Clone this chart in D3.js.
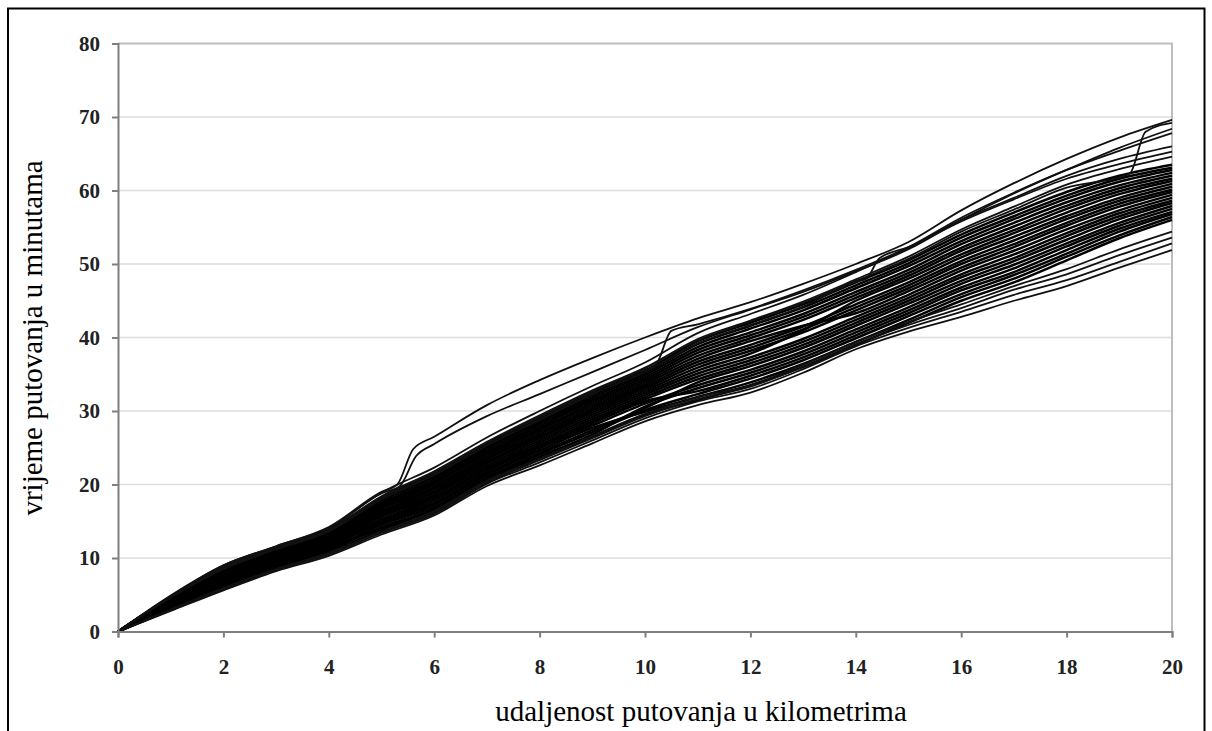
<!DOCTYPE html>
<html><head><meta charset="utf-8">
<script src="https://cdn.jsdelivr.net/npm/d3@7/dist/d3.min.js"></script>
<style>body{margin:0;background:#fff;} svg{display:block;}</style>
</head><body>
<svg id="chart" width="1212" height="731"></svg>
<script>
// ---------- data ----------
const distanceKm = [0,1,2,3,4,5,6,7,8,9,10,11,12,13,14,15,16,17,18,19,20];
const xTickValues = [0,2,4,6,8,10,12,14,16,18,20];
const yTickValues = [0,10,20,30,40,50,60,70,80];
const xTitle = "udaljenost putovanja u kilometrima";
const yTitle = "vrijeme putovanja u minutama";

// dense bundle of trips (minutes at each km of distanceKm)
const denseTrips = [
  [0,3.0,6.0,8.6,10.8,13.8,16.2,20.2,23.5,26.5,29.5,31.5,33.5,36.0,39.0,42.0,45.0,47.5,50.5,53.5,56.0],
  [0,3.1,6.1,8.7,10.9,14.7,17.3,21.3,24.6,27.7,29.9,31.9,33.9,36.4,39.4,42.4,45.5,48.0,51.0,53.9,56.4],
  [0,3.2,6.3,8.9,11.1,14.2,16.7,20.7,24.1,27.1,30.1,32.3,34.4,36.9,39.9,42.9,45.9,48.5,51.4,54.4,56.8],
  [0,3.3,6.4,9.0,11.2,14.5,17.0,21.0,24.3,27.4,30.4,33.9,36.1,38.6,41.6,44.6,47.7,50.4,53.3,56.1,58.3],
  [0,3.3,6.5,9.1,11.4,14.0,16.5,20.5,23.8,26.8,30.6,33.1,35.2,37.7,40.7,43.7,46.8,49.4,52.4,55.2,57.5],
  [0,3.4,6.7,9.3,11.5,14.9,17.5,21.5,24.9,28.0,31.0,33.5,35.6,38.1,41.1,44.1,47.3,49.9,52.8,55.6,57.9],
  [0,3.5,6.8,9.4,11.7,15.1,17.8,21.8,25.2,28.3,31.3,32.7,34.8,37.3,40.3,43.3,46.4,48.9,51.9,54.8,57.1],
  [0,3.6,6.9,9.5,11.8,15.3,18.1,22.1,25.4,28.6,31.6,34.3,36.5,39.0,42.0,45.0,48.2,50.8,53.8,56.5,58.6],
  [0,3.7,7.0,9.7,12.0,15.6,18.3,22.3,25.7,28.9,31.9,34.7,36.9,39.4,42.4,45.4,48.6,51.3,54.2,56.9,59.0],
  [0,3.8,7.2,9.8,12.1,15.8,18.6,22.6,26.0,29.2,32.2,35.1,37.3,39.8,42.8,45.8,49.1,51.8,54.7,57.3,59.4],
  [0,3.9,7.3,9.9,12.3,16.0,18.9,22.9,26.3,29.5,32.5,35.5,37.8,41.0,45.0,48.0,51.3,54.2,57.0,59.5,61.3],
  [0,3.9,7.4,10.1,12.4,16.2,19.1,23.1,26.5,29.8,32.8,35.9,38.2,40.7,43.7,46.7,50.0,52.7,55.6,58.2,60.1],
  [0,4.0,7.6,10.2,12.5,16.4,19.4,23.4,26.8,30.1,33.1,36.3,38.6,41.1,44.1,47.1,50.4,53.2,56.1,58.6,60.5],
  [0,4.1,7.7,10.4,12.7,16.7,19.6,23.6,27.1,30.4,33.4,36.7,39.0,41.5,44.5,47.5,50.9,53.7,56.5,59.0,60.9],
  [0,4.2,7.8,10.5,12.8,16.9,19.9,23.9,27.4,30.7,33.7,37.1,39.5,41.6,43.3,46.3,49.5,52.3,55.2,57.8,59.8],
  [0,4.3,8.0,10.6,13.0,17.1,20.2,24.2,27.6,31.0,34.0,37.5,39.9,42.4,45.4,48.4,51.8,54.6,57.5,59.9,61.6],
  [0,4.4,8.1,10.8,13.1,17.3,20.4,24.4,27.9,31.3,34.3,37.9,40.3,42.8,45.8,48.8,52.2,55.1,57.9,60.3,62.0],
  [0,4.4,8.2,10.9,13.3,17.5,20.7,24.7,28.2,31.6,34.6,38.3,40.7,43.2,46.2,49.2,52.7,55.6,58.4,60.7,62.4],
  [0,4.5,8.3,11.0,13.4,17.8,21.0,25.0,28.5,31.9,34.9,38.7,41.2,43.7,46.7,49.7,53.1,56.1,58.9,61.2,62.8],
  [0,4.6,8.5,11.2,13.6,18.0,21.2,25.2,28.7,32.2,35.2,39.1,41.6,44.1,47.1,50.1,53.6,56.5,59.3,61.6,63.1],
  [0,4.7,8.6,11.3,13.7,18.2,21.5,25.5,29.0,32.5,35.5,39.5,42.0,44.5,47.5,50.5,54.0,57.0,59.8,62.0,63.5]
];

// trips below the bundle (shorter times)
const lowTrips = [
  [0,2.8,5.6,8.2,10.3,13.2,15.8,19.8,22.6,25.6,28.6,30.8,32.5,35.2,38.4,40.8,42.8,45.0,47.0,49.5,51.9],
  [0,2.9,5.8,8.4,10.5,13.4,16.0,20.1,23.0,26.0,29.0,31.3,33.0,35.7,38.8,41.3,43.5,45.8,47.8,50.3,52.8],
  [0,2.9,5.7,8.3,10.6,13.5,16.2,20.3,23.3,26.3,29.3,31.6,33.3,36.0,39.1,41.7,44.0,46.5,48.6,51.2,53.6],
  [0,3.0,5.9,8.5,10.7,13.6,16.4,20.5,23.5,26.6,29.6,31.9,33.5,36.3,39.4,42.1,44.5,47.0,49.3,52.0,54.4]
];

// trips above the bundle (longer times)
const highTrips = [
  [0,4.9,9.0,11.6,14.1,18.9,22.3,26.4,30.0,33.4,36.6,40.6,43.2,45.8,48.9,52.2,56.0,59.0,62.0,64.3,66.0],
  [0,4.7,8.7,11.4,13.9,18.4,21.8,25.8,29.4,32.8,35.9,39.8,42.3,44.9,47.9,51.0,54.7,57.8,60.8,62.9,64.6]
];

// trips with a sudden delay (own distance samples)
const delayKmA = [0,1,2,3,4,5,5.3,5.6,6,7,8,9,10,11,12,13,14,15,16,17,18,19,20];
const delayMinA = [0,4.8,9.0,11.6,14.2,19.0,20.0,24.8,26.5,30.8,34.2,37.2,40.0,42.6,44.8,47.3,50.0,53.0,57.3,61.0,64.3,67.2,69.6];
const delayKmB = [0,1,2,3,4,5,5.35,5.65,6,7,8,9,10,11,12,13,14,15,16,17,18,19,20];
const delayMinB = [0,4.7,8.8,11.5,14.0,18.8,19.8,23.8,25.5,29.3,32.3,35.3,38.3,41.4,43.8,46.2,49.0,52.0,56.0,59.6,62.8,65.8,68.4];
const delayKmC = [0,1,2,3,4,5,6,7,8,9,10,10.2,10.5,11,12,13,14,15,16,17,18,19,20];
const delayMinC = [0,4.7,8.6,11.3,13.8,18.3,21.6,25.6,29.1,32.6,35.6,36.2,40.9,41.8,43.9,46.4,49.2,52.3,56.3,59.7,62.8,65.4,67.8];
const delayKmD = [0,1,2,3,4,5,6,7,8,9,10,11,12,13,14,15,16,17,18,19,19.2,19.5,20];
const delayMinD = [0,4.7,8.7,11.3,13.8,18.3,21.7,25.7,29.2,32.6,35.8,39.6,42.2,44.7,47.7,50.7,54.4,57.4,60.4,61.8,62.3,68.0,69.2];
const delayKmE = [0,1,2,3,4,5,6,7,8,9,10,11,12,13,14,14.2,14.45,15,16,17,18,19,20];
const delayMinE = [0,4.6,8.5,11.2,13.6,18.0,21.3,25.3,28.8,32.3,35.3,39.2,41.7,44.2,47.6,48.0,50.8,52.3,55.8,58.8,61.6,63.6,65.3];

// ---------- build ----------
const svg = d3.select("#chart");
const x = d3.scaleLinear().domain([0, 20]).range([118, 1172]);
const y = d3.scaleLinear().domain([0, 80]).range([631.5, 43.5]);

// outer frame
svg.append("rect").attr("x", 8).attr("y", 8.5).attr("width", 1196.5).attr("height", 760)
  .attr("fill", "none").attr("stroke", "#000").attr("stroke-width", 2);

// gridlines
svg.append("g").selectAll("line").data(yTickValues.filter(v => v > 0 && v < 80)).join("line")
  .attr("x1", x(0)).attr("x2", x(20)).attr("y1", d => y(d)).attr("y2", d => y(d))
  .attr("stroke", "#dcdcdc").attr("stroke-width", 1.5);

// plot area top + right border
svg.append("path")
  .attr("d", `M${x(0)},${y(80)}H${x(20)}V${y(0)}`)
  .attr("fill", "none").attr("stroke", "#bdbdbd").attr("stroke-width", 2);

// trips
const toPts = (ks, ms) => ks.map((k, i) => [k, ms[i]]);
const bundle = denseTrips.map(v => toPts(distanceKm, v));
const sparse = [];
lowTrips.forEach(v => sparse.push(toPts(distanceKm, v)));
highTrips.forEach(v => sparse.push(toPts(distanceKm, v)));
[[delayKmA, delayMinA], [delayKmB, delayMinB], [delayKmC, delayMinC], [delayKmD, delayMinD], [delayKmE, delayMinE]]
  .forEach(([ks, ms]) => sparse.push(toPts(ks, ms)));

const line = d3.line().x(d => x(d[0])).y(d => y(d[1])).curve(d3.curveMonotoneX);
svg.append("g").selectAll("path").data(bundle).join("path")
  .attr("d", line).attr("fill", "none").attr("stroke", "#000")
  .attr("stroke-width", 2.5);
svg.append("g").selectAll("path").data(sparse).join("path")
  .attr("d", line).attr("fill", "none").attr("stroke", "#111")
  .attr("stroke-width", 1.8);

// axes
const fontFam = "'Liberation Serif','Times New Roman',serif";
const yAxis = svg.append("g").attr("transform", `translate(${x(0)},0)`)
  .call(d3.axisLeft(y).tickValues(yTickValues).tickSize(6).tickPadding(12).tickFormat(d3.format("d")));
const xAxis = svg.append("g").attr("transform", `translate(0,${y(0)})`)
  .call(d3.axisBottom(x).tickValues(xTickValues).tickSize(6).tickPadding(22).tickFormat(d3.format("d")));
[yAxis, xAxis].forEach(g => {
  g.select(".domain").attr("stroke", "#7f7f7f").attr("stroke-width", 2);
  g.selectAll(".tick line").attr("stroke", "#7f7f7f").attr("stroke-width", 2);
  g.selectAll(".tick text").attr("font-family", fontFam).attr("font-size", 21)
    .attr("font-weight", "bold").attr("fill", "#222");
});

// titles
svg.append("text").attr("x", 701).attr("y", 721).attr("text-anchor", "middle")
  .attr("font-family", fontFam).attr("font-size", 29).attr("fill", "#000").text(xTitle);
svg.append("text").attr("transform", `translate(42,338) rotate(-90)`).attr("text-anchor", "middle")
  .attr("font-family", fontFam).attr("font-size", 29).attr("fill", "#000").text(yTitle);
</script>
</body></html>
